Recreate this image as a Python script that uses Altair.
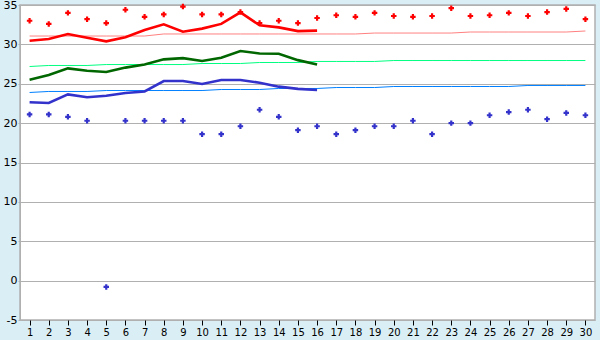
import altair as alt
import pandas as pd

days = list(range(1, 31))
max_temp = [33.0, 32.6, 34.0, 33.2, 32.7, 34.4, 33.5, 33.8, 34.8, 33.8,
            33.8, 34.1, 32.7, 33.0, 32.7, 33.35, 33.7, 33.5, 34.0, 33.6,
            33.5, 33.6, 34.6, 33.6, 33.7, 34.0, 33.6, 34.1, 34.5, 33.2]
min_temp = [21.1, 21.1, 20.8, 20.3, -0.8, 20.3, 20.3, 20.3, 20.3, 18.6,
            18.6, 19.6, 21.7, 20.8, 19.1, 19.6, 18.6, 19.1, 19.6, 19.6,
            20.3, 18.6, 20.0, 20.0, 21.0, 21.4, 21.7, 20.5, 21.3, 21.0]

avg_days = list(range(1, 17))
avg_max = [30.47, 30.68, 31.32, 30.85, 30.39, 30.9, 31.83, 32.55, 31.6, 32.0,
           32.6, 34.07, 32.42, 32.16, 31.68, 31.74]
avg_mean = [25.5, 26.1, 26.95, 26.65, 26.5, 27.05, 27.45, 28.1, 28.25, 27.9,
            28.3, 29.15, 28.85, 28.8, 28.0, 27.45]
avg_min = [22.65, 22.55, 23.65, 23.28, 23.48, 23.83, 24.02, 25.35, 25.35, 24.97,
           25.48, 25.48, 25.13, 24.63, 24.35, 24.2]

norm_max = [31.06] * 7 + [31.32] * 11 + [31.44] * 5 + [31.57] * 6 + [31.70]
norm_mean = [27.19] + [27.32] * 3 + [27.44] * 5 + [27.57] * 3 + [27.70] * 3 + [27.83] * 4 + [27.95] * 11
norm_min = [23.89] + [24.02] * 3 + [24.14] * 6 + [24.27] * 3 + [24.40] * 3 + [24.52] * 3 + [24.65] * 7 + [24.78] * 4

y_ticks = [-5, 0, 5, 10, 15, 20, 25, 30, 35]

daily = pd.DataFrame({"day": days, "tmax": max_temp, "tmin": min_temp,
                      "nmax": norm_max, "nmean": norm_mean, "nmin": norm_min})
avg = pd.DataFrame({"day": avg_days, "amax": avg_max, "amean": avg_mean, "amin": avg_min})

xs = alt.Scale(domain=[0.5, 30.5], nice=False, zero=False)
ys = alt.Scale(domain=[-5, 35], nice=False, zero=False)

x_axis = alt.Axis(values=days, tickCount=len(days), title=None, grid=False, domain=False,
                  tickColor="#000000", tickSize=5, labelFontSize=10, labelFont="DejaVu Sans",
                  labelColor="#000000", labelPadding=2, labelOverlap=False, labelFlush=False)
y_axis = alt.Axis(values=y_ticks, tickCount=len(y_ticks), title=None, grid=True, gridColor="#b0b0b0",
                  domainColor="#b0b0b0", tickColor="#b0b0b0", tickSize=2, labelFontSize=11,
                  labelFont="DejaVu Sans", labelColor="#000000", labelPadding=1,
                  labelOverlap=False, labelExpr="'' + datum.value")

base_d = alt.Chart(daily)
base_a = alt.Chart(avg)

def enc(field):
    return dict(x=alt.X("day:Q", scale=xs, axis=x_axis), y=alt.Y(f"{field}:Q", scale=ys, axis=y_axis))

def thin(field, color):
    return base_d.mark_line(color=color, strokeWidth=1).encode(**enc(field))

def thick(field, color):
    return base_a.mark_line(color=color, strokeWidth=2.6).encode(**enc(field))

def pts(field, color):
    return base_d.mark_point(shape="cross", filled=True, size=30, color=color, opacity=1).encode(**enc(field))

chart = alt.layer(
    thin("nmax", "#ff8080"), thin("nmean", "#00ff80"), thin("nmin", "#0080ff"),
    thick("amax", "#ff0000"), thick("amean", "#006600"), thick("amin", "#3333cc"),
    pts("tmax", "#ff0000"), pts("tmin", "#3333cc"),
).properties(
    width=575, height=315,
    autosize=alt.AutoSizeParams(type="none"),
    padding={"left": 20, "top": 5, "right": 5, "bottom": 20},
    background="#daeef5",
).configure_view(fill="#ffffff", stroke="#b0b0b0", strokeWidth=1.5)

chart.save("out.html", embed_options={"renderer": "svg", "actions": False})
